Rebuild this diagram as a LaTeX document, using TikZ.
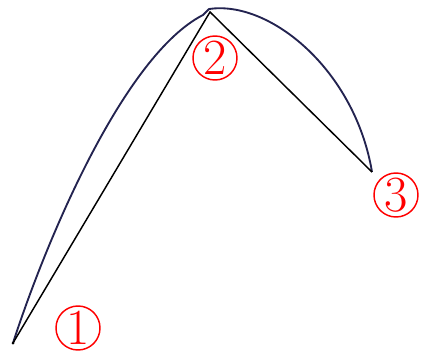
\documentclass[tikz,border=0pt]{standalone}
\begin{document}
\begin{tikzpicture}[x=0.75pt,y=-0.75pt,
  curveline/.style={line width=1.4pt,color={rgb,255:red,35;green,35;blue,80},line join=round},
  chord/.style={line width=1.1pt,black},
  numlabel/.style={circle,draw=red,line width=1.1pt,text=red,minimum size=33pt,inner sep=0pt,font=\fontsize{38}{38}\selectfont}]
\useasboundingbox (0,0) rectangle (421,354);
\coordinate (p1) at (13,343);
\coordinate (p2) at (210,12);
\coordinate (p3) at (372,172);
\coordinate (q1) at (203,15);
\coordinate (q2) at (209,9);
\draw[curveline] (p1) .. controls (48,235) and (125,55) .. (q1) -- (q2)
  .. controls (270,0) and (355,70) .. (p3);
\draw[chord] (p1) -- (p2) -- (p3);
\fill (p1) circle (1.5);
\node[numlabel] (l1) at (78,328) {1};
\node[numlabel] (l2) at (215,58) {2};
\node[numlabel] (l3) at (396,195) {3};
\end{tikzpicture}
\end{document}
